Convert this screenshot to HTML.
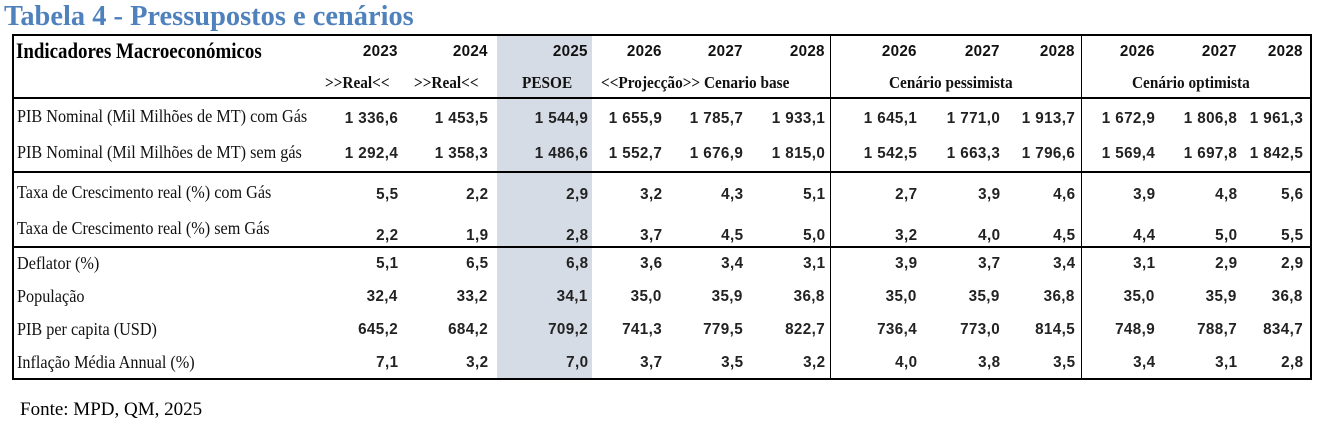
<!DOCTYPE html>
<html><head><meta charset="utf-8">
<style>
body{margin:0;width:1323px;height:440px;background:#fff;position:relative;overflow:hidden;font-family:"Liberation Sans",sans-serif;}
.a{position:absolute;white-space:nowrap;}
.title{left:4px;top:0px;font:bold 29px "Liberation Serif",serif;color:#4f81bd;transform:scaleX(0.98);transform-origin:left center;}
.lbl{font:18px "Liberation Serif",serif;color:#111;transform:scaleX(0.9);transform-origin:left center;}
.num{font:bold 16px "Liberation Sans",sans-serif;color:#222;letter-spacing:0.4px;transform:scaleX(0.95);transform-origin:right center;text-align:right;}
.hy{font:bold 16px "Liberation Sans",sans-serif;color:#111;text-align:right;letter-spacing:0.3px;transform:scaleX(0.95);transform-origin:right center;}
.hs{font:bold 17px "Liberation Serif",serif;color:#111;transform:scaleX(0.9);}
.hl{position:absolute;background:#000;}
</style></head><body>
<div class="a title">Tabela 4 - Pressupostos e cenários</div>
<div class="a" style="left:497px;top:35px;width:95px;height:344px;background:#d6dce5"></div>
<div class="hl" style="left:12px;top:34px;width:1300px;height:2px"></div>
<div class="hl" style="left:12px;top:97px;width:1300px;height:2px"></div>
<div class="hl" style="left:12px;top:171px;width:1300px;height:2px"></div>
<div class="hl" style="left:12px;top:246px;width:1300px;height:2px"></div>
<div class="hl" style="left:12px;top:378px;width:1300px;height:2px"></div>
<div class="hl" style="left:12px;top:34px;width:2px;height:346px"></div>
<div class="hl" style="left:1310px;top:34px;width:2px;height:346px"></div>
<div class="hl" style="left:830px;top:34px;width:1px;height:346px"></div>
<div class="hl" style="left:1081px;top:34px;width:1px;height:346px"></div>
<div class="a" style="left:16px;top:38px;font:bold 22px 'Liberation Serif',serif;transform:scaleX(0.86);transform-origin:left center">Indicadores Macroeconómicos</div>
<div class="a" style="left:20px;top:399px;font:19px 'Liberation Serif',serif">Fonte: MPD, QM, 2025</div>
<div id="t"></div>
<script>
const years=["2023","2024","2025","2026","2027","2028","2026","2027","2028","2026","2027","2028"];
const labels=["PIB Nominal (Mil Milhões de MT) com Gás","PIB Nominal (Mil Milhões de MT) sem gás","Taxa de Crescimento real (%) com Gás","Taxa de Crescimento real (%) sem Gás","Deflator  (%)","População","PIB per capita (USD)","Inflação Média Annual (%)"];
const r0=["1 336,6","1 453,5","1 544,9","1 655,9","1 785,7","1 933,1","1 645,1","1 771,0","1 913,7","1 672,9","1 806,8","1 961,3"];
const r1=["1 292,4","1 358,3","1 486,6","1 552,7","1 676,9","1 815,0","1 542,5","1 663,3","1 796,6","1 569,4","1 697,8","1 842,5"];
const r2=["5,5","2,2","2,9","3,2","4,3","5,1","2,7","3,9","4,6","3,9","4,8","5,6"];
const r3=["2,2","1,9","2,8","3,7","4,5","5,0","3,2","4,0","4,5","4,4","5,0","5,5"];
const r4=["5,1","6,5","6,8","3,6","3,4","3,1","3,9","3,7","3,4","3,1","2,9","2,9"];
const r5=["32,4","33,2","34,1","35,0","35,9","36,8","35,0","35,9","36,8","35,0","35,9","36,8"];
const r6=["645,2","684,2","709,2","741,3","779,5","822,7","736,4","773,0","814,5","748,9","788,7","834,7"];
const r7=["7,1","3,2","7,0","3,7","3,5","3,2","4,0","3,8","3,5","3,4","3,1","2,8"];
const rows=[r0,r1,r2,r3,r4,r5,r6,r7];
const colR=[398,488,588,662,743,825,917,1000,1075,1155,1237,1303];
const lblY=[106,142,182,218,253,286,319,352];
const numY=[110,145,186,227,255,288,321,354];
const t=document.getElementById('t');
function mk(cls,txt,css){const d=document.createElement('div');d.className='a '+cls;d.textContent=txt;d.style.cssText=css;t.appendChild(d);return d;}
years.forEach((y,i)=>{const d=mk('hy',y,'right:'+(1323-colR[i])+'px;top:43px');

});
const subs=[[">>Real<<",325,73],[">>Real<<",414,73],["PESOE",522,73],["<<Projecção>> Cenario base",601,73],["Cenário pessimista",889,73],["Cenário optimista",1132,73]];
subs.forEach((s,i)=>{const d=mk('hs',s[0],'left:'+s[1]+'px;top:'+s[2]+'px;transform-origin:left center');

});
labels.forEach((l,r)=>{const d=mk('lbl',l,'left:17px;top:'+lblY[r]+'px');


rows[r].forEach((v,c)=>{const n=mk('num',v,'right:'+(1323-colR[c])+'px;top:'+numY[r]+'px');

});});
</script>
</body></html>
